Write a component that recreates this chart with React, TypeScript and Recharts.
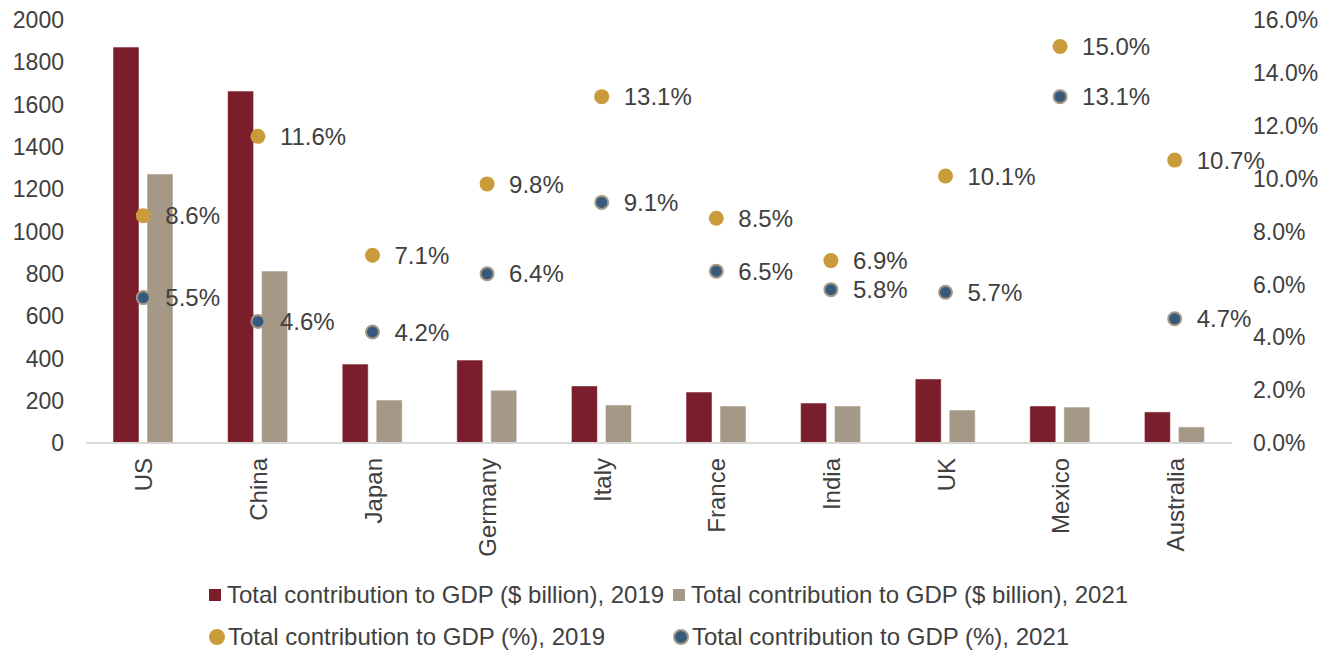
import { Bar, ComposedChart, LabelList, Scatter, XAxis, YAxis } from 'recharts'

const RED = '#7B1E2B'
const TAN = '#A69886'
const GOLD = '#C99B3A'
const NAVY = '#355A7C'
const INK = '#404040'
const FONT = '"Liberation Sans", Arial, sans-serif'

const countries = ['US', 'China', 'Japan', 'Germany', 'Italy', 'France', 'India', 'UK', 'Mexico', 'Australia']
const gdp2019 = [1872, 1664, 373, 392, 270, 241, 189, 303, 175, 147]
const gdp2021 = [1272, 813, 203, 250, 180, 175, 175, 156, 170, 76]
const pct2019 = [8.6, 11.6, 7.1, 9.8, 13.1, 8.5, 6.9, 10.1, 15.0, 10.7]
const pct2021 = [5.5, 4.6, 4.2, 6.4, 9.1, 6.5, 5.8, 5.7, 13.1, 4.7]
const leftTicks = [0, 200, 400, 600, 800, 1000, 1200, 1400, 1600, 1800, 2000]
const rightTicks = [0, 2, 4, 6, 8, 10, 12, 14, 16]

const rows = countries.map((c, i) => ({
  country: c,
  g19: gdp2019[i],
  g21: gdp2021[i],
  p19: pct2019[i],
  p21: pct2021[i],
}))

// rotated country label, reading bottom-to-top
function XTick(props: { x?: number; y?: number; payload?: { value: string } }) {
  const { x = 0, y = 0, payload } = props
  if (!payload) return null
  return (
    <text
      transform={`translate(${x + 9},${y + 7}) rotate(-90)`}
      textAnchor="end"
      fontSize={24}
      fontFamily={FONT}
      fill={INK}
    >
      {payload.value}
    </text>
  )
}

// scatter label: x/y are the symbol's box corner, so go to its centre first
function PctLabel(props: { x?: number; y?: number; width?: number; height?: number; value?: number }) {
  const { x = 0, y = 0, width = 0, height = 0, value } = props
  if (value == null) return null
  const cx = x + width / 2
  const cy = y + height / 2
  return (
    <text x={cx + 22} y={cy} dy="0.36em" fontSize={24} fontFamily={FONT} fill={INK}>
      {value.toFixed(1)}%
    </text>
  )
}

function GoldDot(props: { cx?: number; cy?: number }) {
  return <circle cx={props.cx} cy={props.cy} r={7.5} fill={GOLD} />
}

function NavyDot(props: { cx?: number; cy?: number }) {
  return <circle cx={props.cx} cy={props.cy} r={6.5} fill={NAVY} stroke={TAN} strokeWidth={2} />
}

const legendItems = [
  { label: 'Total contribution to GDP ($ billion), 2019', color: RED, kind: 'square' },
  { label: 'Total contribution to GDP ($ billion), 2021', color: TAN, kind: 'square' },
  { label: 'Total contribution to GDP (%), 2019', color: GOLD, kind: 'circle' },
  { label: 'Total contribution to GDP (%), 2021', color: NAVY, kind: 'circle' },
]

function LegendRows() {
  return (
    <div style={{ position: 'absolute', left: 0, top: 578, width: 1339, fontFamily: FONT, fontSize: 24, color: INK }}>
      {legendItems.map((it, i) => (
        <div
          key={it.label}
          style={{
            position: 'absolute',
            left: i % 2 === 0 ? 209 : 673,
            top: i < 2 ? 0 : 42,
            display: 'flex',
            alignItems: 'center',
            whiteSpace: 'nowrap',
            height: 34,
          }}
        >
          {it.kind === 'square' ? (
            <span style={{ display: 'inline-block', width: 12, height: 12, background: it.color, marginRight: 6 }} />
          ) : (
            <span
              style={{
                display: 'inline-block',
                width: it.color === NAVY ? 12 : 16,
                height: it.color === NAVY ? 12 : 16,
                borderRadius: '50%',
                background: it.color,
                border: it.color === NAVY ? `2px solid ${TAN}` : 'none',
                marginRight: 3,
              }}
            />
          )}
          <span>{it.label}</span>
        </div>
      ))}
    </div>
  )
}

export default function App() {
  return (
    <div style={{ position: 'absolute', left: 0, top: 0, width: 1339, height: 655, background: '#fff' }}>
      <ComposedChart
        width={1339}
        height={570}
        data={rows}
        margin={{ top: 20, right: 0, bottom: 0, left: 0 }}
        barSize={26}
        barGap={8}
      >
        <XAxis
          dataKey="country"
          interval={0}
          height={127}
          tickLine={false}
          axisLine={{ stroke: '#D9D9D9', strokeWidth: 2 }}
          tick={<XTick />}
        />
        <YAxis
          yAxisId="left"
          width={86}
          domain={[0, 2000]}
          ticks={leftTicks}
          tickLine={false}
          axisLine={false}
          tickSize={0}
          tickMargin={22}
          tick={{ fontSize: 23, fontFamily: FONT, fill: INK }}
        />
        <YAxis
          yAxisId="right"
          orientation="right"
          width={107}
          domain={[0, 16]}
          ticks={rightTicks}
          tickLine={false}
          axisLine={false}
          tickSize={0}
          tickMargin={21}
          tickFormatter={(v: number) => `${v.toFixed(1)}%`}
          tick={{ fontSize: 23, fontFamily: FONT, fill: INK, textAnchor: 'start' }}
        />
        <Bar yAxisId="left" dataKey="g19" fill={RED} stroke="#ffffff" strokeOpacity={0.5} strokeWidth={1} isAnimationActive={false} />
        <Bar yAxisId="left" dataKey="g21" fill={TAN} stroke="#ffffff" strokeOpacity={0.5} strokeWidth={1} isAnimationActive={false} />
        <Scatter yAxisId="right" dataKey="p19" shape={<GoldDot />} isAnimationActive={false}>
          <LabelList dataKey="p19" content={<PctLabel />} />
        </Scatter>
        <Scatter yAxisId="right" dataKey="p21" shape={<NavyDot />} isAnimationActive={false}>
          <LabelList dataKey="p21" content={<PctLabel />} />
        </Scatter>
      </ComposedChart>
      <LegendRows />
    </div>
  )
}
